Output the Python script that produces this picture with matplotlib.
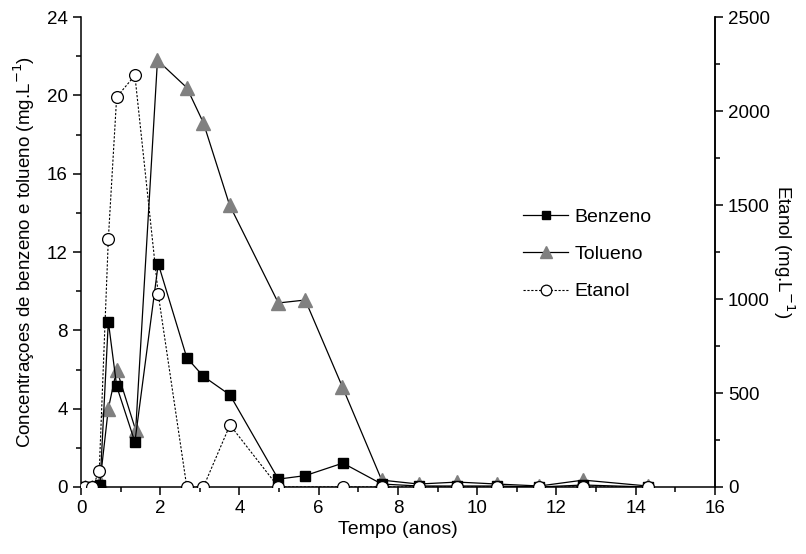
import matplotlib
matplotlib.use("Agg")
import matplotlib.pyplot as plt
from matplotlib.ticker import MultipleLocator

plt.rcParams['font.family'] = ['Liberation Sans', 'DejaVu Sans']

# benzeno (mg/L, left axis)
t_benz = [0.1, 0.29, 0.48, 0.69, 0.90, 1.36, 1.95, 2.67, 3.09, 3.76, 4.98, 5.66, 6.61, 7.59, 8.52, 9.5, 10.5, 11.57, 12.68, 14.3]
benzeno = [0, 0, 0.1, 8.45, 5.15, 2.3, 11.4, 6.6, 5.65, 4.7, 0.4, 0.58, 1.22, 0.15, 0.05, 0.05, 0.05, 0.0, 0.1, 0.0]

# tolueno (mg/L, left axis)
t_tol = [0.1, 0.29, 0.48, 0.69, 0.90, 1.38, 1.93, 2.67, 3.09, 3.75, 4.98, 5.66, 6.6, 7.59, 8.52, 9.5, 10.5, 11.57, 12.68, 14.3]
tolueno = [0, 0, 0.25, 4.0, 6.0, 2.9, 21.8, 20.4, 18.6, 14.4, 9.4, 9.55, 5.1, 0.35, 0.15, 0.25, 0.15, 0.05, 0.35, 0.05]

# etanol (mg/L, right axis)
t_et = [0.1, 0.29, 0.46, 0.69, 0.90, 1.36, 1.95, 2.67, 3.09, 3.76, 4.98, 6.61, 7.59, 8.52, 9.5, 10.5, 11.57, 12.68, 14.3]
etanol = [0, 0, 85, 1320, 2075, 2190, 1025, 0, 0, 330, 0, 0, 0, 0, 0, 0, 0, 0, 0]

fs = 13.5

fig = plt.figure(figsize=(8.06, 5.54), dpi=100)
ax = fig.add_axes([0.1005, 0.121, 0.7865, 0.848])
ax2 = ax.twinx()

l1, = ax.plot(t_benz, benzeno, color='black', lw=0.9, marker='s', ms=7,
              mfc='black', mec='black', label='Benzeno', zorder=3)
l2, = ax.plot(t_tol, tolueno, color='black', lw=0.9, marker='^', ms=9.5,
              mfc='#808080', mec='#808080', label='Tolueno', zorder=2)
l3, = ax2.plot(t_et, etanol, color='black', lw=0.8, dashes=(2, 1.5), marker='o', ms=8.5,
               mfc='white', mec='black', mew=0.9, label='Etanol', zorder=4)

ax.set_xlim(0, 16)
ax.set_ylim(0, 24)
ax2.set_ylim(0, 2500)

ax.xaxis.set_major_locator(MultipleLocator(2))
ax.xaxis.set_minor_locator(MultipleLocator(1))
ax.yaxis.set_major_locator(MultipleLocator(4))
ax.yaxis.set_minor_locator(MultipleLocator(2))
ax2.yaxis.set_major_locator(MultipleLocator(500))
ax2.yaxis.set_minor_locator(MultipleLocator(250))

for a in (ax, ax2):
    a.spines['top'].set_visible(False)
    for s in a.spines.values():
        s.set_linewidth(1.1)
    a.tick_params(which='major', direction='out', length=6, width=1.1, labelsize=fs)
    a.tick_params(which='minor', direction='out', length=3.5, width=1.1)
ax2.spines['left'].set_visible(False)
ax2.spines['bottom'].set_visible(False)

ax.set_xlabel('Tempo (anos)', fontsize=fs + 0.5, labelpad=3)
ax.set_ylabel('Concentraçoes de benzeno e tolueno (mg.L$^{-1}$)', fontsize=fs, labelpad=7)
ax2.set_ylabel('Etanol (mg.L$^{-1}$)', fontsize=fs, rotation=270, labelpad=19)

ax2.legend([l1, l2, l3], ['Benzeno', 'Tolueno', 'Etanol'], loc='upper left',
           bbox_to_anchor=(0.637, 0.641), bbox_transform=fig.transFigure,
           frameon=False, fontsize=fs + 0.5, handlelength=2.3, handletextpad=0.35,
           labelspacing=1.0, borderpad=0, markerscale=0.9)

fig.savefig('out.png', dpi=100)
